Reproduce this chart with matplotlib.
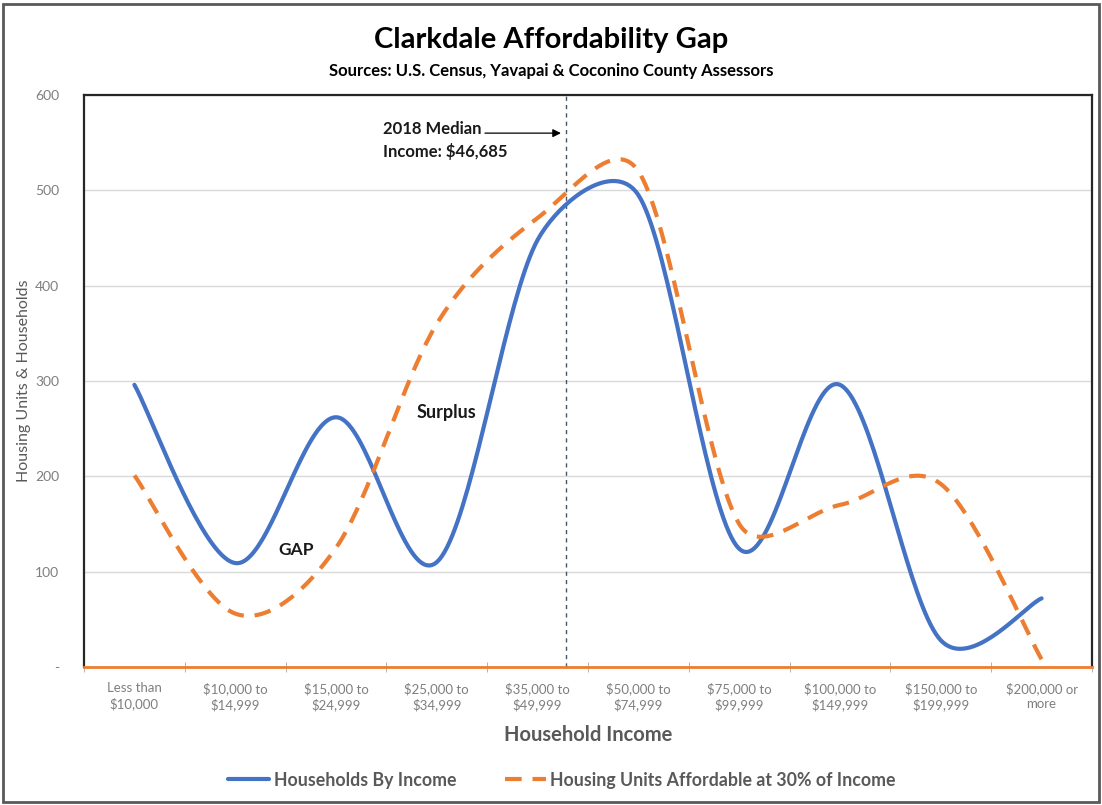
import numpy as np
import matplotlib
matplotlib.use("Agg")
import matplotlib.pyplot as plt
from matplotlib.patches import Rectangle

plt.rcParams['font.family'] = ['Lato', 'DejaVu Sans']

# Income brackets and the two series
categories = ["Less than\n$10,000", "$10,000 to\n$14,999", "$15,000 to\n$24,999",
              "$25,000 to\n$34,999", "$35,000 to\n$49,999", "$50,000 to\n$74,999",
              "$75,000 to\n$99,999", "$100,000 to\n$149,999", "$150,000 to\n$199,999",
              "$200,000 or\nmore"]
bracket_low = [0, 10000, 15000, 25000, 35000, 50000, 75000, 100000, 150000, 200000]
households = [296, 109, 262, 110, 448, 495, 124, 296, 28, 72]
affordable_units = [201, 56, 125, 360, 471, 520, 150, 170, 192, 8]
median_income = 46685

BLUE = "#4472C4"
ORANGE = "#ED7D31"
GRAY = "#595959"

# screen scale of one category and one unit, used to shape the curve
XS, YS = 100.8, 0.953


def smooth(y, clamp=0.4, steps=40):
    # Bezier curve through every point: Catmull-Rom arms, shortened next to short segments
    pts = np.column_stack([np.arange(len(y)) * XS, np.asarray(y, float) * YS])
    n = len(pts)
    out = []
    t = np.linspace(0, 1, steps)[:, None]
    for i in range(n - 1):
        p0, p3 = pts[i], pts[i + 1]
        seg = np.linalg.norm(p3 - p0)
        a0 = (pts[min(i + 1, n - 1)] - pts[max(i - 1, 0)]) / 6
        a1 = (pts[min(i + 2, n - 1)] - pts[i]) / 6
        a0 = a0 * min(1.0, clamp * seg / np.linalg.norm(a0))
        a1 = a1 * min(1.0, clamp * seg / np.linalg.norm(a1))
        c1 = p0 + a0
        c2 = p3 - a1
        b = ((1 - t) ** 3) * p0 + 3 * ((1 - t) ** 2) * t * c1 + 3 * (1 - t) * t ** 2 * c2 + t ** 3 * p3
        out.append(b if i == 0 else b[1:])
    out = np.vstack(out)
    return out[:, 0] / XS, out[:, 1] / YS


fig = plt.figure(figsize=(11.02, 8.05), dpi=100)
ax = fig.add_axes([84 / 1102, 1 - 667 / 805, 1008 / 1102, 572 / 805])

# Outer frame of the chart
fig.patches.append(Rectangle((0.003, 0.004), 0.994, 0.991, transform=fig.transFigure,
                             fill=False, edgecolor=GRAY, lw=2))

x = np.arange(len(categories))
hx, hy = smooth(households)
ax.plot(hx, hy, color=BLUE, lw=3, solid_capstyle='round', label="Households By Income", zorder=3)
ox, oy = smooth(affordable_units)
ax.plot(ox, oy, color=ORANGE, lw=3, dashes=(4, 2.6), label="Housing Units Affordable at 30% of Income",
        zorder=3)

# Median income marker, placed inside its bracket
i = 4
frac = (median_income - bracket_low[i]) / (bracket_low[i + 1] - bracket_low[i])
mx = i - 0.5 + frac
ax.axvline(mx, color="#44546A", lw=1, dashes=(3, 3), zorder=2)
ax.annotate("", xy=(mx - 0.02, 560), xytext=(3.45, 560),
            arrowprops=dict(arrowstyle="-|>", color="black", lw=0.9, mutation_scale=12))
ax.text(2.47, 552, "2018 Median\nIncome: $46,685", fontsize=12, fontweight='bold',
        va='center', ha='left', linespacing=1.45, color="#1a1a1a")
ax.text(1.6, 123, "GAP", fontsize=12.5, fontweight='bold', ha='center', va='center', color="#1a1a1a")
ax.text(3.1, 267, "Surplus", fontsize=13, fontweight='bold', ha='center', va='center', color="#1a1a1a")

ax.set_xlim(-0.5, len(categories) - 0.5)
ax.set_ylim(0, 600)
ax.set_yticks(range(0, 601, 100))
ax.set_yticklabels(["-"] + [str(v) for v in range(100, 601, 100)])
ax.yaxis.grid(True, color="#D9D9D9", lw=1)
ax.set_axisbelow(True)
ax.tick_params(axis='y', length=0, labelsize=10, labelcolor="#7F7F7F", pad=18)

ax.set_xticks(x)
ax.set_xticklabels(categories, fontsize=9.5, color="#7F7F7F", linespacing=1.3)
ax.set_xticks(np.arange(-0.5, len(categories)), minor=True)
ax.tick_params(axis='x', which='major', length=0, pad=11)
ax.tick_params(axis='x', which='minor', length=7, direction='inout', color="#A6A6A6")

for side in ('left', 'top', 'right'):
    ax.spines[side].set_color("#262626")
    ax.spines[side].set_linewidth(1.6)
ax.spines['bottom'].set_color(ORANGE)
ax.spines['bottom'].set_linewidth(2)

ax.set_xlabel("Household Income", fontsize=14.5, fontweight='bold', color=GRAY, labelpad=10)
ax.set_ylabel("Housing Units & Households", fontsize=11.5, color=GRAY, labelpad=3)

fig.text(0.5, 1 - 40 / 805, "Clarkdale Affordability Gap", fontsize=21, fontweight='bold',
         ha='center', va='center', color="black")
fig.text(0.5, 1 - 71 / 805, "Sources: U.S. Census, Yavapai & Coconino County Assessors", fontsize=12,
         fontweight='bold', ha='center', va='center', color="black")

fig.legend(loc='center', bbox_to_anchor=(562 / 1102, 1 - 780 / 805), ncol=2, frameon=False,
           handlelength=2.3, handletextpad=0.25, columnspacing=2.75,
           prop={'size': 12.8, 'weight': 'bold'}, labelcolor=GRAY)

fig.savefig("out.png", dpi=100)
